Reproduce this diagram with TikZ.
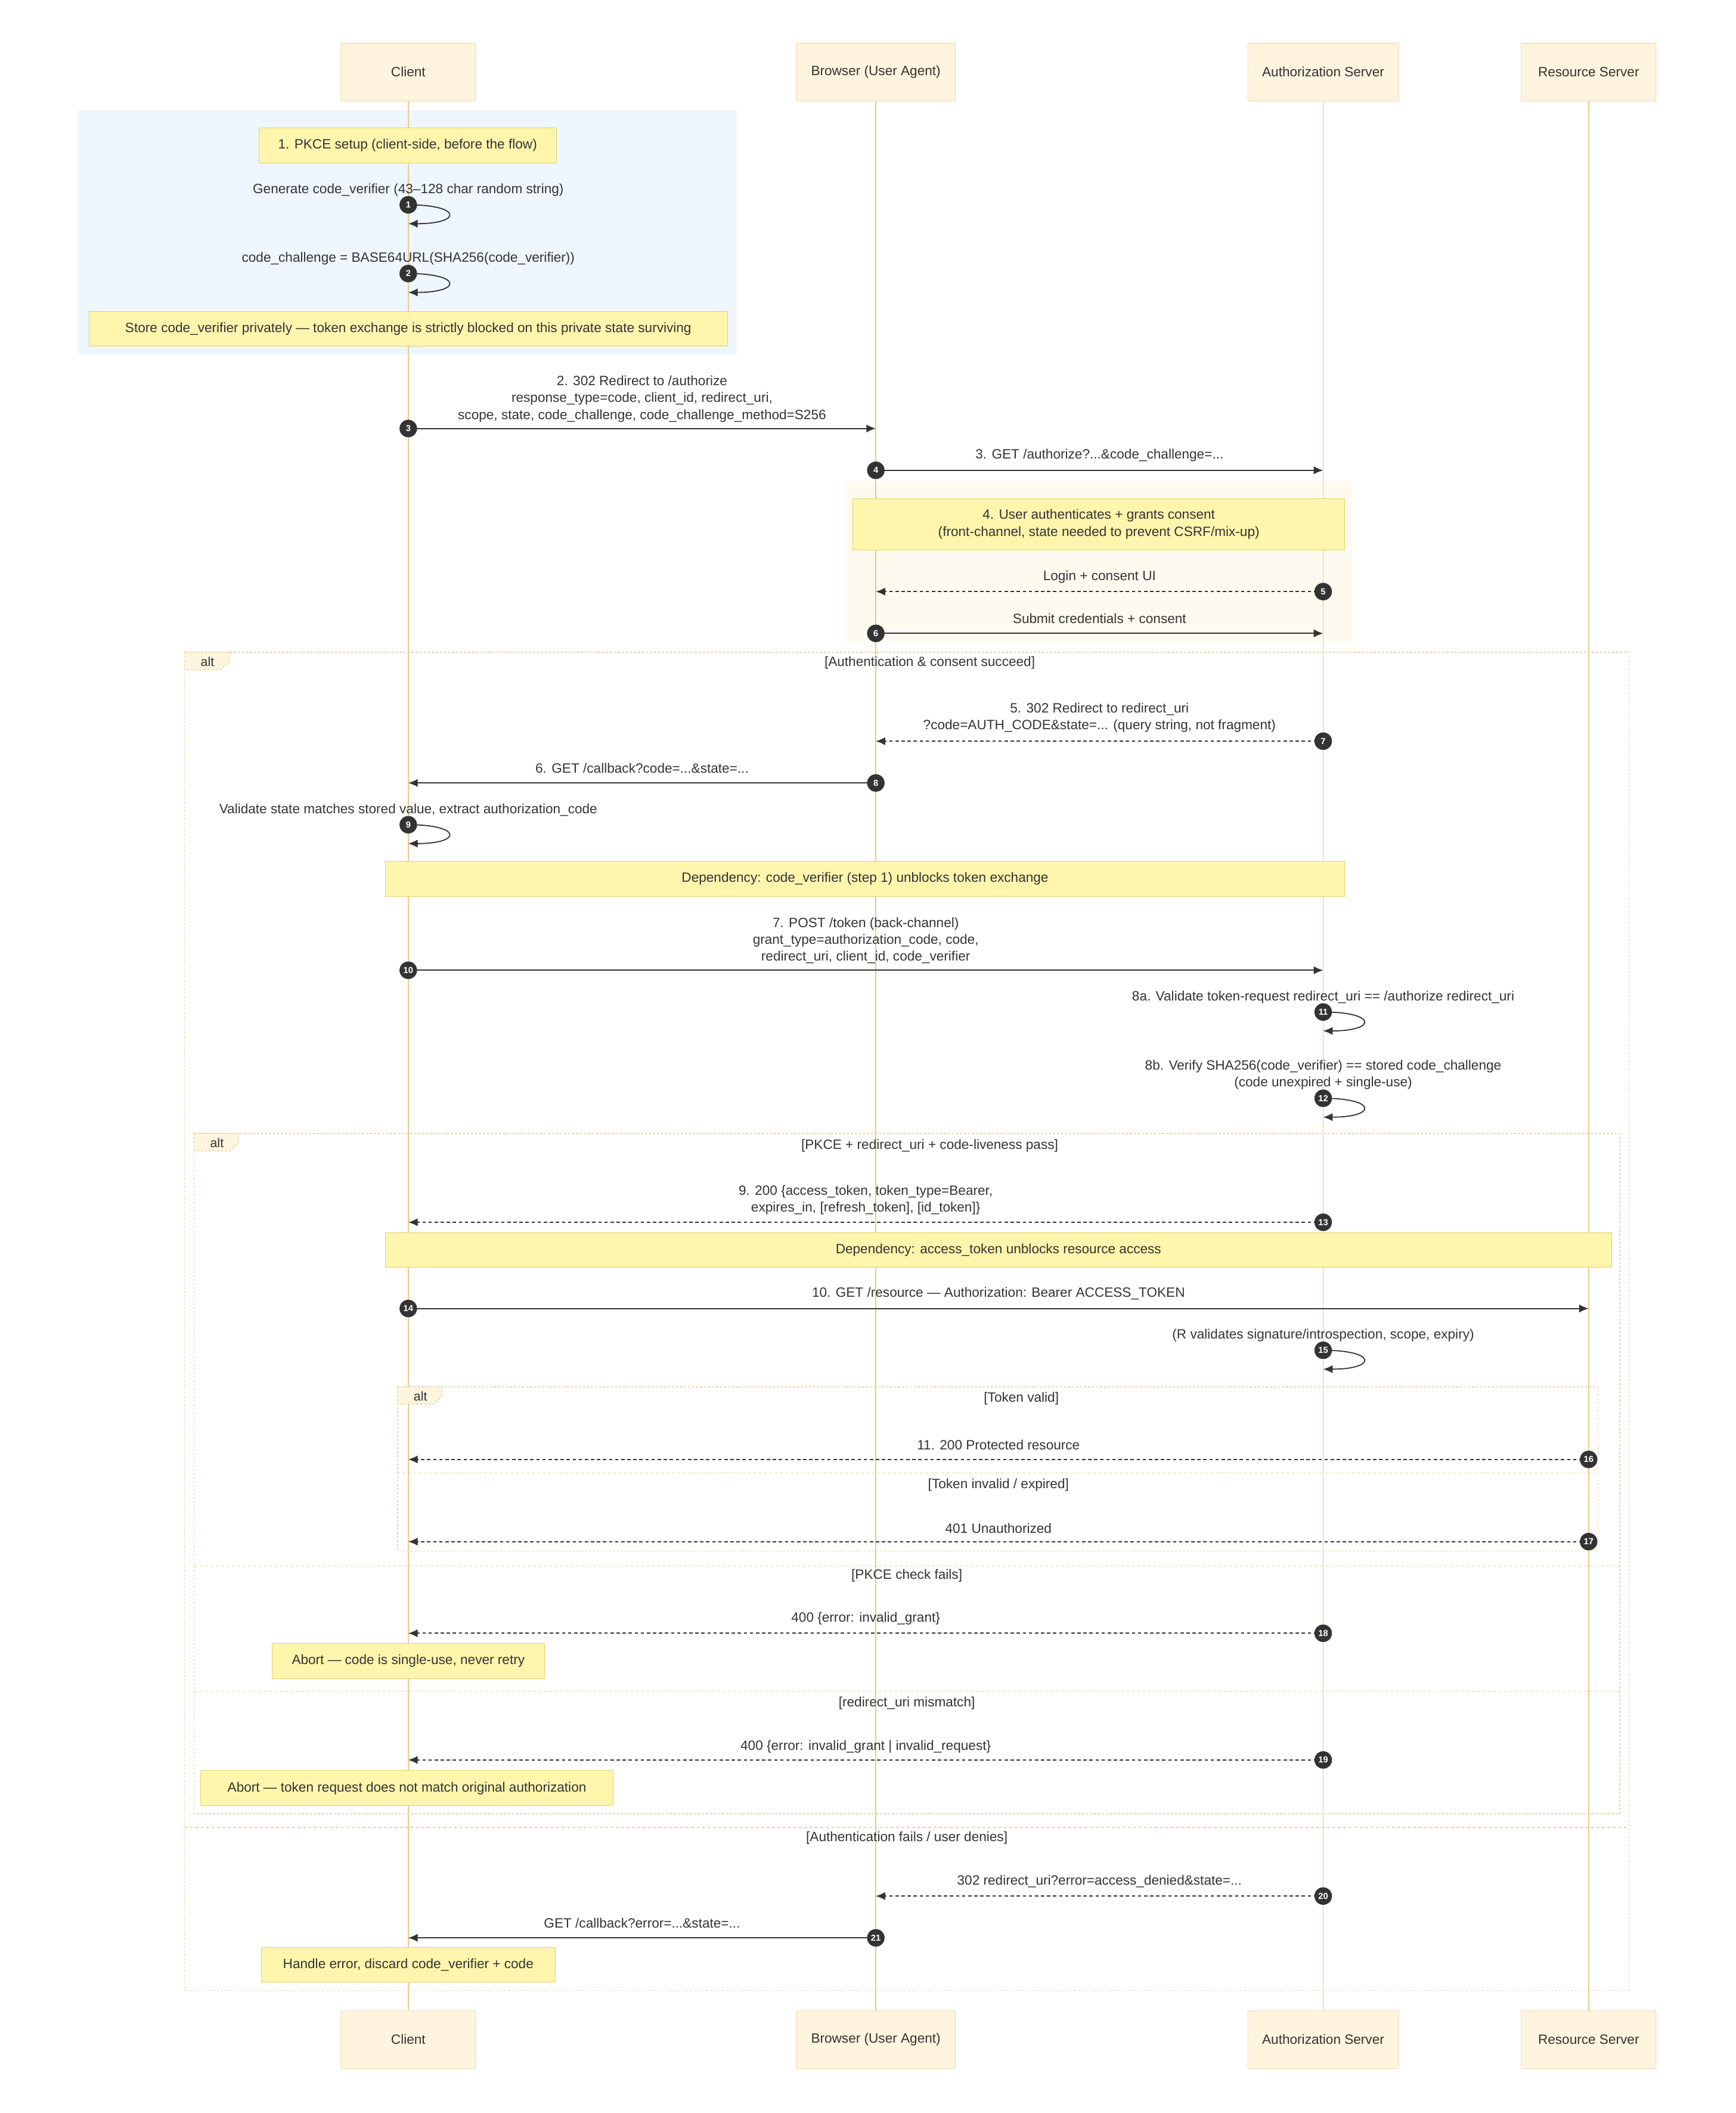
\documentclass[tikz,border=0pt]{standalone}
\usepackage{fontspec}
\setmainfont{Liberation Sans}
\usetikzlibrary{arrows.meta}
\definecolor{actf}{HTML}{FFF4DE}
\definecolor{actd}{HTML}{F0D8A8}
\definecolor{life}{HTML}{E9C98C}
\definecolor{notef}{HTML}{FFF5AD}
\definecolor{noted}{HTML}{E3D06A}
\definecolor{frm}{HTML}{E6D49A}
\definecolor{ink}{HTML}{333333}
\begin{document}
\begin{tikzpicture}[x=1pt,y=-1pt,font=\fontsize{10}{12.5}\selectfont,
 actor/.style={draw=actd,fill=actf,minimum height=43,text=ink,inner sep=0,rounded corners=1},
 note/.style={draw=noted,fill=notef,text=ink,inner sep=0},
 msg/.style={draw=ink,line width=0.8,-{Latex[length=7,width=6]}},
 dmsg/.style={msg,dash pattern=on 2.5pt off 2pt},
 num/.style={circle,fill=ink,text=white,font=\fontsize{6.5}{7}\selectfont\bfseries,inner sep=0,minimum size=13},
 lbl/.style={text=ink,align=center,inner sep=0},
 frame/.style={draw=frm,line width=0.7,dash pattern=on 1.5pt off 1.5pt},
 sep/.style={draw=frm,line width=0.7,dash pattern=on 2pt off 2pt}]
\useasboundingbox (0,0) rectangle (1288,1568);
% regions
\fill[fill=blue!6!white,fill={rgb,255:red,238;green,246;blue,255}] (58,82) rectangle (547,263);
\fill[fill={rgb,255:red,255;green,250;blue,240}] (627,357) rectangle (1004,476);
% lifelines
\foreach \n/\x in {c/303,b/650,a/982,r/1179}{\draw[life,line width=0.8] (\x,75) -- (\x,1492);}
% actors
\node[actor,minimum width=100] (ct) at (303,53.5) {Client};
\node[actor,minimum width=118] (bt) at (650,53.5) {Browser (User Agent)};
\node[actor,minimum width=112] (at) at (982,53.5) {Authorization Server};
\node[actor,minimum width=100] (rt) at (1179,53.5) {Resource Server};
\node[actor,minimum width=100] (cb) at (303,1513.5) {Client};
\node[actor,minimum width=118] (bb) at (650,1513.5) {Browser (User Agent)};
\node[actor,minimum width=112] (ab) at (982,1513.5) {Authorization Server};
\node[actor,minimum width=100] (rb) at (1179,1513.5) {Resource Server};
% frames
\draw[frame] (137,484) rectangle (1209,1477);
\draw[frame] (144,841) rectangle (1202,1346);
\draw[frame] (295,1029) rectangle (1186,1151);
\foreach \x/\y in {137/484,144/841,295/1029}{
 \draw[frame,fill=actf] (\x,\y) -- (\x+33,\y) -- (\x+33,\y+7) -- (\x+27,\y+13) -- (\x,\y+13) -- cycle;
 \node[lbl,font=\fontsize{9.5}{11}\selectfont] at (\x+17,\y+7) {alt};}
\draw[sep] (295,1093) -- (1186,1093);
\draw[sep] (144,1162) -- (1202,1162);
\draw[sep] (144,1255) -- (1202,1255);
\draw[sep] (137,1356) -- (1209,1356);
\node[lbl] (g1) at (690,492) {[Authentication \& consent succeed]};
\node[lbl] (g2) at (690,850) {[PKCE + redirect\_uri + code-liveness pass]};
\node[lbl] (g3) at (758,1038) {[Token valid]};
\node[lbl] (g4) at (741,1102) {[Token invalid / expired]};
\node[lbl] (g5) at (673,1169) {[PKCE check fails]};
\node[lbl] (g6) at (673,1264) {[redirect\_uri mismatch]};
\node[lbl] (g7) at (673,1364) {[Authentication fails / user denies]};
% notes
\node[note,minimum width=221,minimum height=26] (n1) at (302.5,108) {1. PKCE setup (client-side, before the flow)};
\node[note,minimum width=474,minimum height=26] (n2) at (303,244) {Store code\_verifier privately — token exchange is strictly blocked on this private state surviving};
\node[note,minimum width=365,minimum height=38,align=center] (n3) at (815.5,389) {4. User authenticates + grants consent\\(front-channel, state needed to prevent CSRF/mix-up)};
\node[note,minimum width=712,minimum height=26] (n4) at (642,652) {Dependency: code\_verifier (step 1) unblocks token exchange};
\node[note,minimum width=910,minimum height=26] (n5) at (741,927.5) {Dependency: access\_token unblocks resource access};
\node[note,minimum width=202,minimum height=26] (n6) at (303,1232.5) {Abort — code is single-use, never retry};
\node[note,minimum width=306,minimum height=26] (n7) at (302,1327) {Abort — token request does not match original authorization};
\node[note,minimum width=218,minimum height=26] (n8) at (303,1458) {Handle error, discard code\_verifier + code};
% self messages
\foreach \k/\x/\y/\t in {1/303/152/{Generate code\_verifier (43–128 char random string)},2/303/203/{code\_challenge = BASE64URL(SHA256(code\_verifier))},9/303/612/{Validate state matches stored value, extract authorization\_code},11/982/751/{8a. Validate token-request redirect\_uri == /authorize redirect\_uri},15/982/1002/{(R validates signature/introspection, scope, expiry)}}{
 \coordinate (s\k a) at (\x,\y); \coordinate (s\k b) at (\x,\y+14);
 \node[lbl] (t\k) at (\x,\y-11) {\t};
 \draw[msg] (s\k a) .. controls +(40,0) and +(40,0) .. (s\k b);
 \node[num] (c\k) at (s\k a) {\k};}
\coordinate (s12a) at (982,815); \coordinate (s12b) at (982,829);
\node[lbl] (t12) at (982,797.5) {8b. Verify SHA256(code\_verifier) == stored code\_challenge\\(code unexpired + single-use)};
\draw[msg] (s12a) .. controls +(40,0) and +(40,0) .. (s12b);
\node[num] (c12) at (s12a) {12};
% messages
\newcommand\mymsg[7]{% num, style, x1, x2, y, texty, text
 \coordinate (m#1a) at (#3,#5); \coordinate (m#1b) at (#4,#5);
 \draw[#2] (m#1a) -- (m#1b);
 \node[num] (c#1) at (m#1a) {#1};
 \node[lbl] (t#1) at ({(#3+#4)/2},#6) {#7};}
\mymsg{3}{msg}{303}{650}{318}{296}{2. 302 Redirect to /authorize\\response\_type=code, client\_id, redirect\_uri,\\scope, state, code\_challenge, code\_challenge\_method=S256}
\mymsg{4}{msg}{650}{982}{349}{338}{3. GET /authorize?...\&code\_challenge=...}
\mymsg{5}{dmsg}{982}{650}{439}{428}{Login + consent UI}
\mymsg{6}{msg}{650}{982}{470}{459}{Submit credentials + consent}
\mymsg{7}{dmsg}{982}{650}{550}{532.5}{5. 302 Redirect to redirect\_uri\\?code=AUTH\_CODE\&state=... (query string, not fragment)}
\mymsg{8}{msg}{650}{303}{581}{570}{6. GET /callback?code=...\&state=...}
\mymsg{10}{msg}{303}{982}{720}{698}{7. POST /token (back-channel)\\grant\_type=authorization\_code, code,\\redirect\_uri, client\_id, code\_verifier}
\mymsg{13}{dmsg}{982}{303}{907}{890.5}{9. 200 \{access\_token, token\_type=Bearer,\\expires\_in, [refresh\_token], [id\_token]\}}
\mymsg{14}{msg}{303}{1179}{971}{960}{10. GET /resource — Authorization: Bearer ACCESS\_TOKEN}
\mymsg{16}{dmsg}{1179}{303}{1083}{1072}{11. 200 Protected resource}
\mymsg{17}{dmsg}{1179}{303}{1144}{1134}{401 Unauthorized}
\mymsg{18}{dmsg}{982}{303}{1212}{1201}{400 \{error: invalid\_grant\}}
\mymsg{19}{dmsg}{982}{303}{1306}{1296}{400 \{error: invalid\_grant | invalid\_request\}}
\mymsg{20}{dmsg}{982}{650}{1407}{1396}{302 redirect\_uri?error=access\_denied\&state=...}
\mymsg{21}{msg}{650}{303}{1438}{1427}{GET /callback?error=...\&state=...}
\end{tikzpicture}
\end{document}
